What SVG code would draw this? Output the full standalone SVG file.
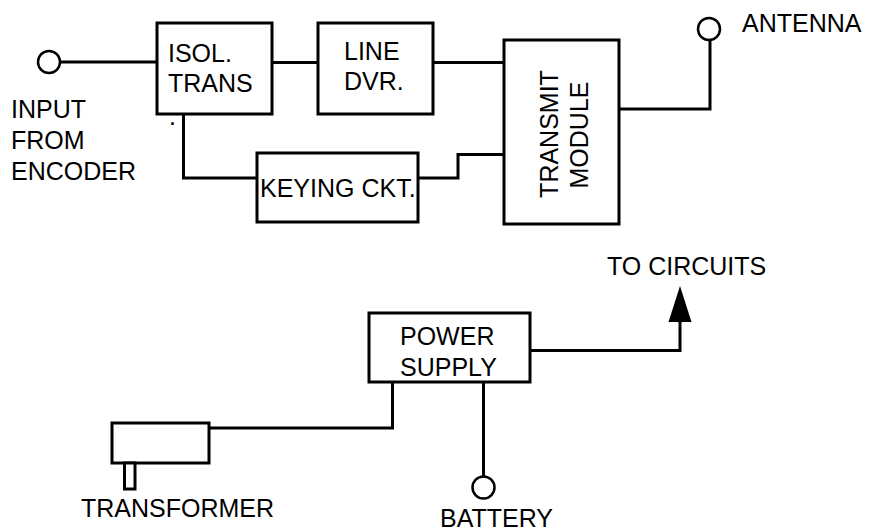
<svg xmlns="http://www.w3.org/2000/svg" width="869" height="532" viewBox="0 0 869 532">
<defs>
<style>
.box{fill:#fff;stroke:#000;stroke-width:3}
.ln{fill:none;stroke:#000;stroke-width:3}
.term{fill:#fff;stroke:#000;stroke-width:2.5}
text{font-family:"Liberation Sans",Arial,sans-serif;font-size:25px;fill:#000}
</style>
</defs>
<rect width="869" height="532" fill="#fff"/>
<g id="connectors">
<path class="ln" d="M60 62 H157"/>
<path class="ln" d="M272 62.5 H318"/>
<path class="ln" d="M433 62.5 H504"/>
<path class="ln" d="M183.5 114 V178 H257"/>
<path class="ln" d="M418 178 H458 V154.5 H504"/>
<path class="ln" d="M619 109 H710 V41"/>
<path class="ln" d="M392.5 382 V428 H209"/>
<path class="ln" d="M483.5 382 V476"/>
<path class="ln" d="M530 350.5 H680 V320"/>
<polygon points="680,286 668.5,322 691.5,322" fill="#000"/>
</g>
<g id="input">
<circle class="term" cx="49" cy="62" r="11"/>
<text x="11" y="117.5">INPUT</text>
<text x="11" y="148.5">FROM</text>
<text x="11" y="179.5">ENCODER</text>
</g>
<g id="isol-trans">
<rect class="box" x="157" y="23" width="115" height="91"/>
<text x="168" y="62">ISOL.</text>
<text x="168" y="92">TRANS</text>
<text x="169" y="125">.</text>
</g>
<g id="line-dvr">
<rect class="box" x="318" y="23" width="115" height="91"/>
<text x="344" y="60">LINE</text>
<text x="344" y="90">DVR.</text>
</g>
<g id="keying-ckt">
<rect class="box" x="257" y="153" width="161" height="69"/>
<text x="260" y="197">KEYING CKT.</text>
</g>
<g id="transmit-module">
<rect class="box" x="504" y="40" width="115" height="184"/>
<text transform="translate(558,134) rotate(-90)" text-anchor="middle">TRANSMIT</text>
<text transform="translate(588,135) rotate(-90)" text-anchor="middle">MODULE</text>
</g>
<g id="antenna">
<circle class="term" cx="709" cy="29" r="11"/>
<text x="742" y="32">ANTENNA</text>
</g>
<g id="power-supply">
<rect class="box" x="369" y="313" width="161" height="69"/>
<text x="400" y="345">POWER</text>
<text x="400" y="376">SUPPLY</text>
</g>
<g id="to-circuits">
<text x="607" y="275">TO CIRCUITS</text>
</g>
<g id="transformer">
<rect class="box" x="112" y="423" width="97" height="40"/>
<rect class="box" x="124.5" y="463" width="10.5" height="26" stroke-width="2.5"/>
<text x="81" y="517">TRANSFORMER</text>
</g>
<g id="battery">
<circle class="term" cx="483.5" cy="487.5" r="11"/>
<text x="440" y="527">BATTERY</text>
</g>
</svg>
